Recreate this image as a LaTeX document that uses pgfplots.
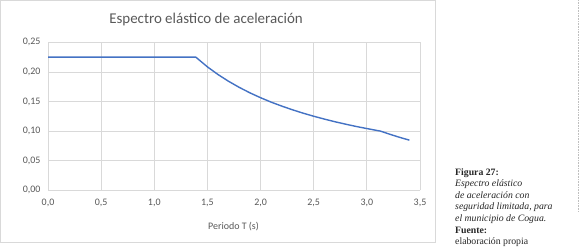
\documentclass[border=0pt]{standalone}
\usepackage{pgfplots}
\pgfplotsset{compat=1.18}
\usepackage{fontspec}
\setmainfont{Carlito}
\newfontfamily\capfont{Liberation Serif}
\definecolor{txtgray}{HTML}{595959}
\definecolor{gridgray}{HTML}{D9D9D9}
\definecolor{linblue}{HTML}{4472C4}
\begin{document}
\begin{tikzpicture}[x=1bp,y=1bp]
\fill[white] (0,0) rectangle (580,251);
\draw[gridgray, line width=0.8bp] (0.5,9) rectangle (435,250.5);
\begin{axis}[
  at={(48bp,61bp)}, anchor=south west,
  scale only axis, width=372bp, height=148bp,
  xmin=0, xmax=3.5, ymin=0, ymax=0.25,
  xtick={0,0.5,...,3.5}, ytick={0,0.05,...,0.25},
  grid=major, major grid style={gridgray, line width=0.8bp},
  axis line style={draw=none},
  tick style={draw=none},
  ticklabel style={font=\fontsize{10}{12}\selectfont, text=txtgray},
  /pgf/number format/assume math mode=true,
  xticklabel style={/pgf/number format/fixed, /pgf/number format/fixed zerofill, /pgf/number format/precision=1, /pgf/number format/use comma, yshift=-5bp},
  yticklabel style={/pgf/number format/fixed, /pgf/number format/fixed zerofill, /pgf/number format/precision=2, /pgf/number format/use comma, xshift=-4bp},
  clip=false,
]
\draw[gridgray, line width=0.8bp] (axis cs:0,0) -- (axis cs:3.5,0);
\addplot[linblue, line width=1.4bp, line join=round] coordinates {
(0,0.225) (1.39,0.225) (1.5,0.2085) (1.6,0.1955) (1.7,0.1840) (1.8,0.1738)
(1.9,0.1646) (2.0,0.1564) (2.1,0.1489) (2.2,0.1422) (2.3,0.1360) (2.4,0.1303)
(2.5,0.1251) (2.6,0.1203) (2.7,0.1158) (2.8,0.1117) (2.9,0.1078) (3.0,0.1043)
(3.13,0.0999) (3.2,0.0956) (3.3,0.0899) (3.4,0.0847)
};
\end{axis}
\node[text=txtgray, font=\fontsize{15}{18}\selectfont] at (206,232) {Espectro elástico de aceleración};
\node[text=txtgray, font=\fontsize{10}{12}\selectfont] at (233.5,25) {Periodo T (s)};
\node[anchor=north west, align=left, inner sep=0pt, font=\capfont\fontsize{9.8}{11.6}\selectfont, text=black!85] at (455,83) {%
\textbf{Figura 27:}\\
\textit{Espectro elástico}\\
\textit{de aceleración con}\\
\textit{seguridad limitada, para}\\
\textit{el municipio de Cogua.}\\
\textbf{Fuente:}\\
elaboración propia};
\draw[gray!50, densely dotted, line width=0.6bp] (578,251) -- (578,40);
\end{tikzpicture}
\end{document}
